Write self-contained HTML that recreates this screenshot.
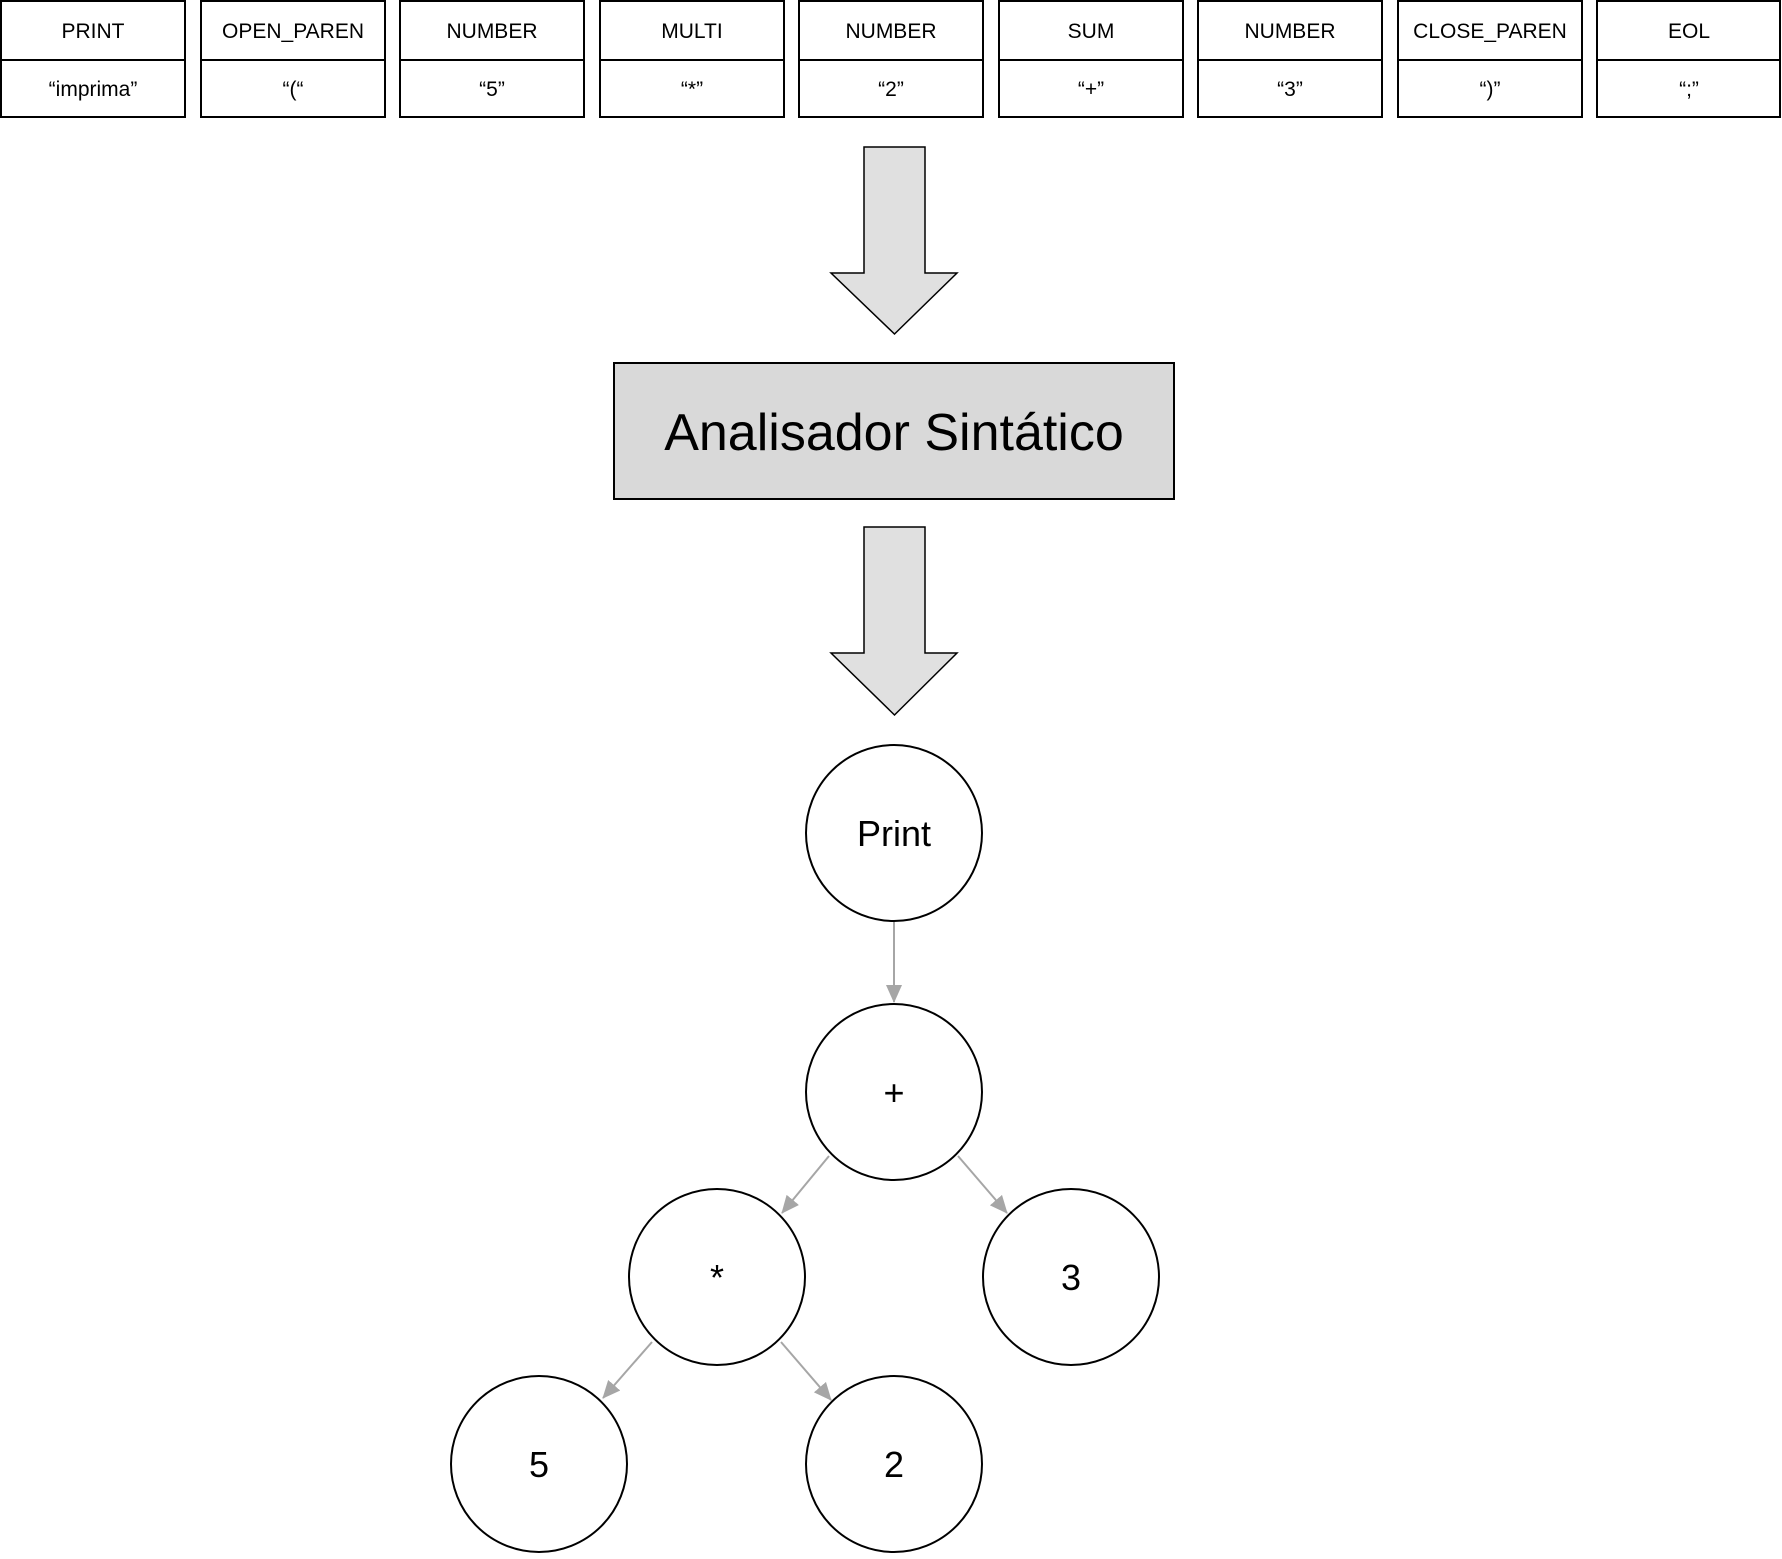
<!DOCTYPE html>
<html><head><meta charset="utf-8"><style>
html,body{margin:0;padding:0;background:#fff;}
body{width:1782px;height:1554px;position:relative;overflow:hidden;font-family:"Liberation Sans",sans-serif;}
</style></head><body>
<svg width="1782" height="1554" viewBox="0 0 1782 1554" xmlns="http://www.w3.org/2000/svg" font-family="Liberation Sans, sans-serif">
<defs>
<marker id="ah" markerWidth="18" markerHeight="16" refX="17" refY="8" orient="auto" markerUnits="userSpaceOnUse" viewBox="0 0 18 16">
<path d="M0,0 L18,8 L0,16 z" fill="#a6a6a6"/>
</marker>
</defs>
<g stroke="#000" stroke-width="2" fill="#fff">
<rect x="1" y="1" width="184" height="116"/><line x1="1" y1="60" x2="185" y2="60"/>
<rect x="201" y="1" width="184" height="116"/><line x1="201" y1="60" x2="385" y2="60"/>
<rect x="400" y="1" width="184" height="116"/><line x1="400" y1="60" x2="584" y2="60"/>
<rect x="600" y="1" width="184" height="116"/><line x1="600" y1="60" x2="784" y2="60"/>
<rect x="799" y="1" width="184" height="116"/><line x1="799" y1="60" x2="983" y2="60"/>
<rect x="999" y="1" width="184" height="116"/><line x1="999" y1="60" x2="1183" y2="60"/>
<rect x="1198" y="1" width="184" height="116"/><line x1="1198" y1="60" x2="1382" y2="60"/>
<rect x="1398" y="1" width="184" height="116"/><line x1="1398" y1="60" x2="1582" y2="60"/>
<rect x="1597" y="1" width="183" height="116"/><line x1="1597" y1="60" x2="1780" y2="60"/>
</g>
<g font-size="21" text-anchor="middle" fill="#000">
<text x="93" y="38">PRINT</text><text x="93" y="96">“imprima”</text>
<text x="293" y="38">OPEN_PAREN</text><text x="293" y="96">“(“</text>
<text x="492" y="38">NUMBER</text><text x="492" y="96">“5”</text>
<text x="692" y="38">MULTI</text><text x="692" y="96">“*”</text>
<text x="891" y="38">NUMBER</text><text x="891" y="96">“2”</text>
<text x="1091" y="38">SUM</text><text x="1091" y="96">“+”</text>
<text x="1290" y="38">NUMBER</text><text x="1290" y="96">“3”</text>
<text x="1490" y="38">CLOSE_PAREN</text><text x="1490" y="96">“)”</text>
<text x="1689" y="38">EOL</text><text x="1689" y="96">“;”</text>
</g>
<g fill="#e0e0e0" stroke="#000" stroke-width="1.5">
<path d="M864,147 L925,147 L925,273 L957,273 L894.5,334 L831,273 L864,273 Z"/>
<path d="M864,527 L925,527 L925,653 L957,653 L894.5,715 L831,653 L864,653 Z"/>
</g>
<rect x="614" y="363" width="560" height="136" fill="#d9d9d9" stroke="#000" stroke-width="2"/>
<text x="894" y="450" font-size="52" text-anchor="middle" fill="#000">Analisador Sintático</text>
<g stroke="#a6a6a6" stroke-width="2" marker-end="url(#ah)">
<line x1="894" y1="922" x2="894" y2="1002"/>
<line x1="829" y1="1156" x2="782" y2="1213"/>
<line x1="958" y1="1156" x2="1007" y2="1213"/>
<line x1="652" y1="1342" x2="603" y2="1398"/>
<line x1="781" y1="1342" x2="831" y2="1400"/>
</g>
<g fill="#fff" stroke="#000" stroke-width="2">
<circle cx="894" cy="833" r="88"/>
<circle cx="894" cy="1092" r="88"/>
<circle cx="717" cy="1277" r="88"/>
<circle cx="1071" cy="1277" r="88"/>
<circle cx="539" cy="1464" r="88"/>
<circle cx="894" cy="1464" r="88"/>
</g>
<g font-size="36" text-anchor="middle" fill="#000">
<text x="894" y="846">Print</text>
<text x="894" y="1105">+</text>
<text x="717" y="1290">*</text>
<text x="1071" y="1290">3</text>
<text x="539" y="1477">5</text>
<text x="894" y="1477">2</text>
</g>
</svg>
</body></html>
